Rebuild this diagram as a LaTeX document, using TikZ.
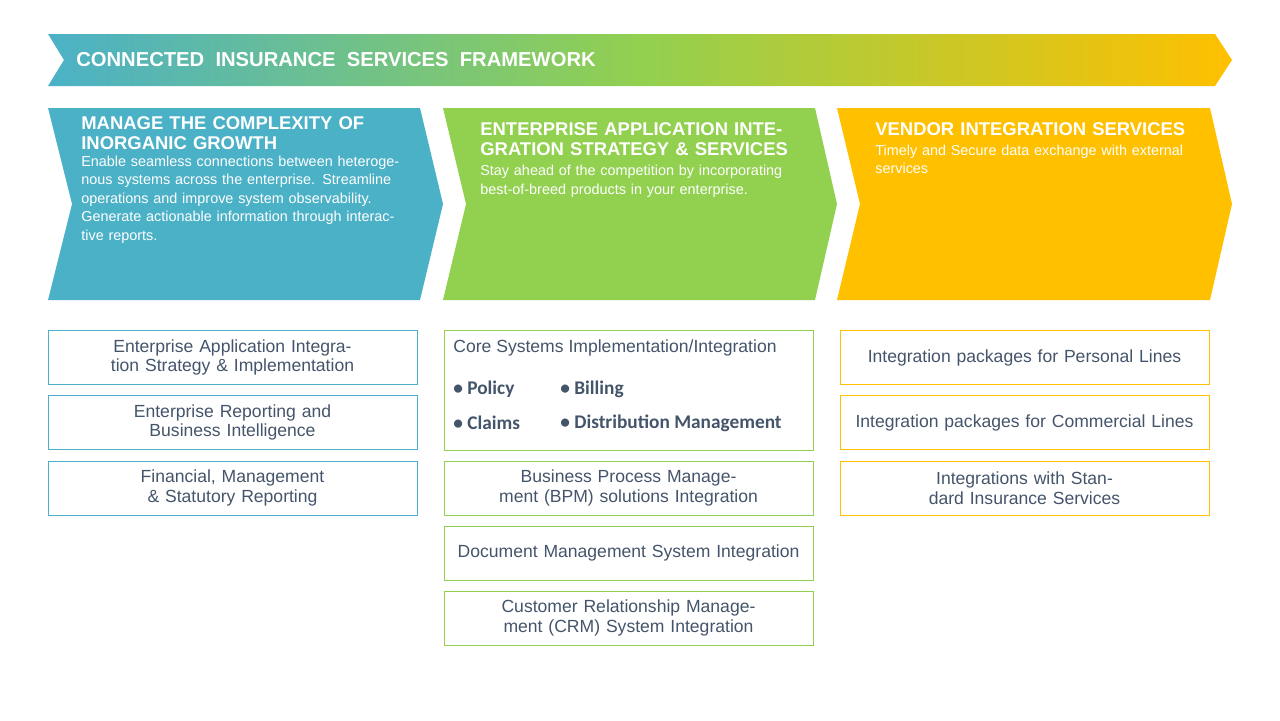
\documentclass[tikz,border=0pt]{standalone}
\usepackage{fontspec}
\setmainfont{Liberation Sans}
\newfontfamily\calib{Carlito}
\usetikzlibrary{positioning}
\definecolor{cblue}{RGB}{75,177,199}
\definecolor{cgreen}{RGB}{146,208,80}
\definecolor{cyellow}{RGB}{255,192,0}
\definecolor{ctext}{RGB}{68,84,106}
\tikzset{
  chev/.style={draw=none},
  head/.style={anchor=north west, text width=#1, align=left, text=white, font=\bfseries\fontsize{10.5}{11.5}\selectfont, inner sep=0pt},
  body/.style={anchor=north west, text width=#1, align=left, text=white, font=\fontsize{8.2}{10.6}\selectfont, inner sep=0pt},
  item/.style={draw=#1, minimum width=7.38cm, minimum height=1.08cm, text width=7.1cm, align=center, text=ctext, font=\fontsize{10}{11.2}\selectfont, inner sep=0pt},
}
\begin{document}
\begin{tikzpicture}[x=0.02cm,y=-0.02cm]
\useasboundingbox (0,0) rectangle (1280,720);
% banner
\shade[left color=cblue, right color=cyellow, middle color=cgreen]
  (48,34) -- (1215,34) -- (1232,60) -- (1215,86) -- (48,86) -- (64,60) -- cycle;
\node[anchor=west, text=white, font=\bfseries\fontsize{11.5}{12}\selectfont, inner sep=0pt] (title) at (76,60) {CONNECTED~ INSURANCE~ SERVICES~ FRAMEWORK};
% chevrons
\fill[cblue] (48,108) -- (420,108) -- (443,204) -- (420,300) -- (48,300) -- (72,204) -- cycle;
\fill[cgreen] (443,108) -- (815,108) -- (837,204) -- (815,300) -- (443,300) -- (466,204) -- cycle;
\fill[cyellow] (837,108) -- (1210,108) -- (1232,204) -- (1210,300) -- (837,300) -- (860,204) -- cycle;
\node[head=6.2cm] (h1) at (81,116) {MANAGE THE COMPLEXITY OF INORGANIC GROWTH};
\node[body=6.6cm, below=3pt of h1.south west, anchor=north west] (b1) {Enable seamless connections between heterogenous systems across the enterprise. Streamline operations and improve system observability. Generate actionable information through interactive reports.};
\node[head=6.2cm] (h2) at (480,122) {ENTERPRISE APPLICATION INTEGRATION STRATEGY \& SERVICES};
\node[body=6.7cm, below=5pt of h2.south west, anchor=north west] (b2) {Stay ahead of the competition by incorporating best-of-breed products in your enterprise.};
\node[head=6.6cm] (h3) at (875,122) {VENDOR INTEGRATION SERVICES};
\node[body=6.4cm, below=5pt of h3.south west, anchor=north west] (b3) {Timely and Secure data exchange with external services};
% column 1
\node[item=cblue] (a1) at (232.5,357.5) {Enterprise Application Integration Strategy \& Implementation};
\node[item=cblue] (a2) at (232.5,422.5) {Enterprise Reporting and Business Intelligence};
\node[item=cblue] (a3) at (232.5,488) {Financial, Management \& Statutory Reporting};
% column 2
\node[item=cgreen, minimum height=2.4cm] (c1) at (628.5,390) {};
\node[anchor=north west, text=ctext, font=\fontsize{10}{12}\selectfont, inner sep=0pt] (c1t) at (453,339) {Core Systems Implementation/Integration};
\begin{scope}[every node/.style={anchor=west, text=ctext, font=\calib\bfseries\fontsize{11}{12}\selectfont, inner sep=0pt}]
\node (p1) at (453,389) {\textbullet\ Policy};
\node (p2) at (560,389) {\textbullet\ Billing};
\node (p3) at (453,423) {\textbullet\ Claims};
\node (p4) at (560,423) {\textbullet\ Distribution Management};
\end{scope}
\node[item=cgreen] (c2) at (628.5,488) {Business Process Management (BPM) solutions Integration};
\node[item=cgreen] (c3) at (628.5,553) {Document Management System Integration};
\node[item=cgreen] (c4) at (628.5,618) {Customer Relationship Management (CRM) System Integration};
% column 3
\node[item=cyellow] (v1) at (1024.5,357.5) {Integration packages for Personal Lines};
\node[item=cyellow] (v2) at (1024.5,422.5) {Integration packages for Commercial Lines};
\node[item=cyellow] (v3) at (1024.5,488) {Integrations with Standard Insurance Services};
\end{tikzpicture}
\end{document}
